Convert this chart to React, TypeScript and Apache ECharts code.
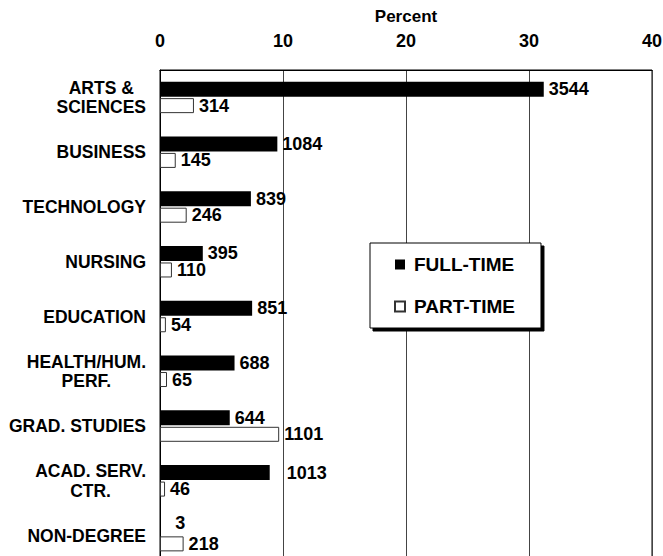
import React, { useEffect, useRef } from "react";
import * as echarts from "echarts";

const categories = [
  "ARTS &\nSCIENCES",
  "BUSINESS",
  "TECHNOLOGY",
  "NURSING",
  "EDUCATION",
  "HEALTH/HUM.\nPERF.",
  "GRAD. STUDIES",
  "ACAD. SERV.\nCTR.",
  "NON-DEGREE",
];
// counts shown as labels
const fullTimeCounts = [3544, 1084, 839, 395, 851, 688, 644, 1013, 3];
const partTimeCounts = [314, 145, 246, 110, 54, 65, 1101, 46, 218];
// bar lengths in percent (of all students)
const fullTimePct = [31.2, 9.54, 7.39, 3.48, 7.49, 6.06, 5.67, 8.92, 0.03];
const partTimePct = [2.76, 1.28, 2.17, 0.97, 0.48, 0.57, 9.69, 0.41, 1.92];
const xTicks = { min: 0, max: 40, interval: 10 };

// label nudges (style only)
const fullLabelNudge: Record<number, [number, number]> = { 7: [12, 0], 8: [10, -4] };

const FONT = "'Liberation Sans', Arial, sans-serif";

export default function App() {
  const ref = useRef<HTMLDivElement>(null);
  useEffect(() => {
    if (!ref.current) return;
    const chart = echarts.init(ref.current, null, { renderer: "svg" });
    const baseText = { fontFamily: FONT, fontWeight: "bold" as const, fontSize: 17, color: "#000" };
    const numText = { ...baseText, fontSize: 18 };
    chart.setOption({
      animation: false,
      backgroundColor: "#fff",
      grid: {
        left: 160,
        top: 70,
        width: 492,
        height: 493,
        show: true,
        borderColor: "#000",
        borderWidth: 1,
        containLabel: false,
        outerBoundsMode: "none",
      },
      legend: {
        orient: "vertical",
        left: 370,
        top: 243,
        data: ["FULL-TIME", "PART-TIME"],
        icon: "rect",
        itemWidth: 10,
        itemHeight: 10,
        itemGap: 23,
        padding: [12, 26, 12, 24],
        backgroundColor: "#fff",
        borderColor: "#000",
        borderWidth: 1,
        shadowColor: "#000",
        shadowBlur: 0,
        shadowOffsetX: 3,
        shadowOffsetY: 3,
        textStyle: { ...baseText, fontSize: 19, padding: [0, 0, 0, 4] },
      },
      xAxis: {
        type: "value",
        position: "top",
        min: xTicks.min,
        max: xTicks.max,
        interval: xTicks.interval,
        name: "Percent",
        nameLocation: "middle",
        nameGap: 45,
        nameTextStyle: baseText,
        axisLine: { show: true, lineStyle: { color: "#000", width: 1 } },
        axisTick: { show: false },
        axisLabel: { ...numText, margin: 20 },
        splitLine: { show: true, lineStyle: { color: "#444", width: 1 } },
      },
      yAxis: {
        type: "category",
        inverse: true,
        data: categories,
        axisLine: { show: true, lineStyle: { color: "#000", width: 1 } },
        axisTick: { show: false },
        axisLabel: {
          ...baseText,
          fontSize: 17.5,
          margin: 14,
          lineHeight: 19.5,
          formatter: (v: string) => v.split("\n").map((l) => `{c|${l}}`).join("\n"),
          rich: {
            c: { ...baseText, fontSize: 17.5, align: "center", lineHeight: 19.5 },
          },
        },
      },
      series: [
        {
          name: "FULL-TIME",
          type: "bar",
          barWidth: 15,
          barGap: "10%",
          itemStyle: { color: "#000", borderColor: "#000", borderWidth: 0 },
          label: {
            show: true,
            position: "right",
            distance: 5,
            ...numText,
            formatter: (p: any) => String(fullTimeCounts[p.dataIndex]),
          },
          data: fullTimePct.map((v, i) =>
            fullLabelNudge[i] ? { value: v, label: { offset: fullLabelNudge[i] } } : v
          ),
        },
        {
          name: "PART-TIME",
          type: "bar",
          barWidth: 15,
          barGap: "10%",
          itemStyle: { color: "#fff", borderColor: "#333", borderWidth: 1 },
          label: {
            show: true,
            position: "right",
            distance: 5,
            ...numText,
            formatter: (p: any) => String(partTimeCounts[p.dataIndex]),
          },
          data: partTimePct,
        },
      ],
    });
    return () => chart.dispose();
  }, []);
  return (
    <div
      ref={ref}
      style={{ position: "fixed", left: 0, top: 0, width: 663, height: 556, background: "#fff" }}
    />
  );
}
